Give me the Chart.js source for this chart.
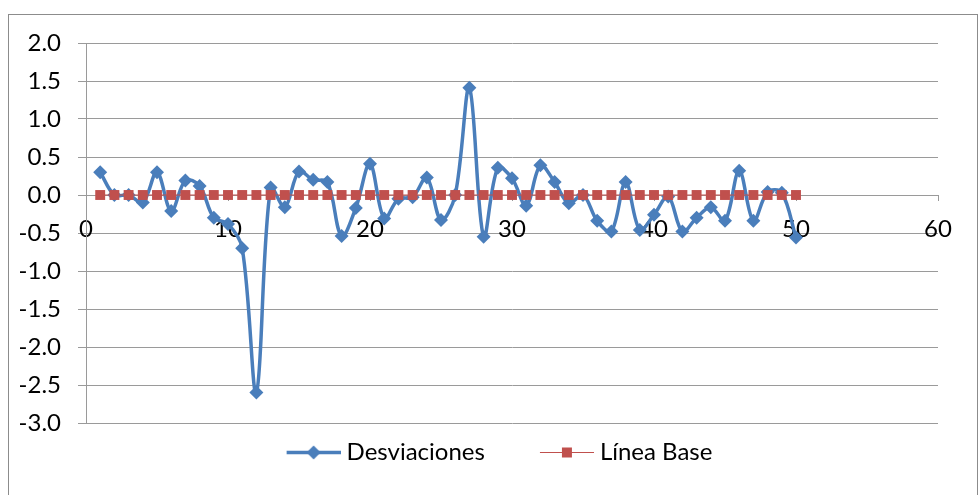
<!DOCTYPE html>
<html lang="es">
<head>
<meta charset="UTF-8">
<title>Desviaciones</title>
<script src="https://cdn.jsdelivr.net/npm/chart.js@4"></script>
<style>
  html, body { margin: 0; padding: 0; background: #fff; }
  #wrap { position: relative; width: 979px; height: 495px; }
</style>
<script>
// x positions (observation number)
const obs = [1, 2, 3, 4, 5, 6, 7, 8, 9, 10,
             11, 12, 13, 14, 15, 16, 17, 18, 19, 20,
             21, 22, 23, 24, 25, 26, 27, 28, 29, 30,
             31, 32, 33, 34, 35, 36, 37, 38, 39, 40,
             41, 42, 43, 44, 45, 46, 47, 48, 49, 50];

// values
const desviaciones = [0.30, 0.00, 0.00, -0.10, 0.30, -0.21, 0.19, 0.12, -0.30, -0.38,
                      -0.70, -2.60, 0.10, -0.16, 0.31, 0.20, 0.17, -0.54, -0.17, 0.41,
                      -0.31, -0.05, -0.03, 0.23, -0.33, 0.00, 1.41, -0.55, 0.36, 0.22,
                      -0.14, 0.39, 0.17, -0.11, 0.00, -0.34, -0.48, 0.17, -0.46, -0.26,
                      -0.02, -0.48, -0.30, -0.16, -0.34, 0.32, -0.34, 0.04, 0.03, -0.56];

const lineaBase = [0, 0, 0, 0, 0, 0, 0, 0, 0, 0,
                   0, 0, 0, 0, 0, 0, 0, 0, 0, 0,
                   0, 0, 0, 0, 0, 0, 0, 0, 0, 0,
                   0, 0, 0, 0, 0, 0, 0, 0, 0, 0,
                   0, 0, 0, 0, 0, 0, 0, 0, 0, 0];

const seriesNames = ['Desviaciones', 'Línea Base'];

const BLUE = '#4A7EBB';
const RED = '#C0504D';
const GRID = '#9a9a9a';
const FONT = 'Lato, sans-serif';

// legend sample: line with a marker in the middle (like the office legend)
// 98px wide image in an 86px legend box, the drawing sits at the right end
function legendSample(color, lineW, shape) {
    const c = document.createElement('canvas');
    c.width = 98; c.height = 20;
    const g = c.getContext('2d');
    g.strokeStyle = color;
    g.lineWidth = lineW;
    g.beginPath();
    g.moveTo(44, 10.5); g.lineTo(98, 10.5);
    g.stroke();
    g.fillStyle = color;
    if (shape === 'diamond') {
        g.beginPath();
        g.moveTo(71, 3.5); g.lineTo(78, 10.5); g.lineTo(71, 17.5); g.lineTo(64, 10.5);
        g.closePath(); g.fill();
    } else {
        g.fillRect(66, 5.5, 10, 10);
    }
    return c;
}

document.addEventListener('DOMContentLoaded', function () {

    const frame = {
        id: 'frame',
        beforeDraw(chart) {
            const ctx = chart.ctx;
            ctx.save();
            ctx.strokeStyle = '#8c8c8c';
            ctx.lineWidth = 1;
            ctx.strokeRect(8.5, 14.5, 969, 490);
            ctx.restore();
        }
    };

    const samples = [legendSample(BLUE, 3.5, 'diamond'), legendSample(RED, 1, 'square')];

    new Chart(document.getElementById('myChart'), {
        type: 'line',
        data: {
            datasets: [
                {
                    label: seriesNames[0],
                    data: obs.map((x, i) => ({ x: x, y: desviaciones[i] })),
                    borderColor: BLUE,
                    backgroundColor: BLUE,
                    borderWidth: 3.5,
                    tension: 0.35,
                    pointStyle: 'rectRot',
                    pointRadius: 7,
                    pointBorderWidth: 0,
                    order: 1
                },
                {
                    label: seriesNames[1],
                    data: obs.map((x, i) => ({ x: x, y: lineaBase[i] })),
                    borderColor: RED,
                    backgroundColor: RED,
                    borderWidth: 1,
                    tension: 0,
                    pointStyle: 'rect',
                    pointRadius: 7,
                    pointBorderWidth: 0,
                    order: 0
                }
            ]
        },
        options: {
            responsive: true,
            maintainAspectRatio: false,
            animation: false,
            layout: { padding: { left: 0, right: 18, top: 43, bottom: 21 } },
            plugins: {
                tooltip: { enabled: false },
                legend: {
                    position: 'bottom',
                    labels: {
                        usePointStyle: true,
                        pointStyleWidth: 86,
                        padding: 17,
                        color: '#000',
                        font: { family: FONT, size: 24 },
                        generateLabels: function (chart) {
                            return chart.data.datasets.map((ds, i) => ({
                                text: ds.label,
                                pointStyle: samples[i],
                                fillStyle: ds.backgroundColor,
                                strokeStyle: ds.borderColor,
                                lineWidth: 0,
                                hidden: false,
                                datasetIndex: i,
                                fontColor: '#000'
                            }));
                        }
                    }
                }
            },
            scales: {
                x: {
                    type: 'linear',
                    position: { y: 0 },
                    min: 0,
                    max: 60,
                    afterFit: function (scale) { scale.height = 0; },
                    ticks: {
                        stepSize: 10,
                        padding: 15,
                        color: '#000',
                        font: { family: FONT, size: 24 }
                    },
                    grid: { drawOnChartArea: false, drawTicks: true, tickLength: 5, color: GRID },
                    border: { display: true, color: GRID, width: 1 }
                },
                y: {
                    min: -3,
                    max: 2,
                    afterFit: function (scale) { scale.width = 86; },
                    ticks: {
                        stepSize: 0.5,
                        padding: 17,
                        color: '#000',
                        font: { family: FONT, size: 24 },
                        callback: v => v.toFixed(1)
                    },
                    grid: { color: GRID, tickLength: 8 },
                    border: { display: true, color: GRID, width: 1 }
                },
                // empty right-hand box, only keeps the plot off the right edge
                yPad: {
                    position: 'right',
                    min: -3,
                    max: 2,
                    afterFit: function (scale) { scale.width = 23; },
                    ticks: { display: false },
                    grid: { display: false },
                    border: { display: false }
                }
            }
        },
        plugins: [frame]
    });
});
</script>
</head>
<body>
<div id="wrap"><canvas id="myChart"></canvas></div>
</body>
</html>
